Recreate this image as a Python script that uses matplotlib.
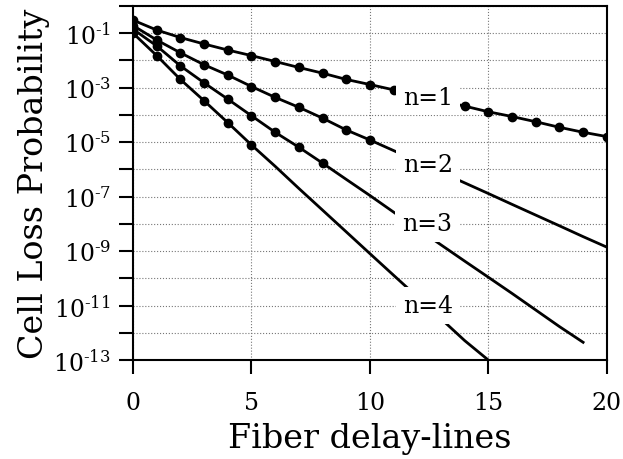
import numpy as np
import matplotlib
matplotlib.use("Agg")
import matplotlib.pyplot as plt
from matplotlib.ticker import FixedLocator, FuncFormatter

# cell loss probability vs number of fiber delay-lines
x_n1 = list(range(0, 21))
p_n1 = [0.30, 0.13, 6.9e-2, 4.0e-2, 2.4e-2, 1.5e-2, 9.1e-3, 5.5e-3, 3.4e-3, 2.0e-3, 1.3e-3,
        8.3e-4, 5.2e-4, 3.3e-4, 2.1e-4, 1.3e-4, 8.7e-5, 5.6e-5, 3.5e-5, 2.3e-5, 1.6e-5]
x_n2 = list(range(0, 21))
p_n2 = [0.19, 5.6e-2, 1.9e-2, 6.9e-3, 2.9e-3, 1.1e-3, 4.4e-4, 1.9e-4, 7.6e-5, 2.8e-5, 1.2e-5,
        4.9e-6, 2.0e-6, 7.9e-7, 3.2e-7, 1.3e-7, 5.2e-8, 2.1e-8, 8.5e-9, 3.4e-9, 1.4e-9]
x_n3 = list(range(0, 20))
p_n3 = [0.14, 3.4e-2, 6.3e-3, 1.5e-3, 3.8e-4, 9.3e-5, 2.3e-5, 6.5e-6, 1.7e-6, 4.3e-7,
        1.1e-7, 2.7e-8, 6.8e-9, 1.7e-9, 4.3e-10, 1.1e-10, 2.8e-11, 6.9e-12, 1.7e-12, 4.5e-13]
x_n4 = list(range(0, 16))
p_n4 = [0.10, 1.5e-2, 2.0e-3, 3.3e-4, 5.2e-5, 7.9e-6, 1.3e-6, 2.0e-7, 3.2e-8, 5.1e-9,
        8.1e-10, 1.3e-10, 2.1e-11, 3.3e-12, 5.2e-13, 1.0e-13]
# number of simulated points (marked) per curve
marked = [21, 11, 9, 6]
labels = ["n=1", "n=2", "n=3", "n=4"]
label_pos = [(12.45, 4.5e-4), (12.45, 1.55e-6), (12.4, 1.0e-8), (12.45, 1.0e-11)]

xticks = [0, 5, 10, 15, 20]
ydecades = list(range(-13, 1))

plt.rcParams['font.family'] = ['DejaVu Serif']
plt.rcParams['mathtext.fontset'] = 'dejavuserif'


def fmt(v, pos):
    d = int(round(np.log10(v)))
    if d % 2 == 0:
        return ''
    return r'$\mathregular{10^{\text{-}%d}}$' % abs(d)


fig = plt.figure(figsize=(6.23, 4.6), dpi=100)
ax = fig.add_axes([0.2135, 0.215, 0.7605, 0.77])

for xs, ps, m in zip([x_n1, x_n2, x_n3, x_n4], [p_n1, p_n2, p_n3, p_n4], marked):
    ax.plot(xs, ps, color='black', lw=2.0, marker='o', ms=6,
            markevery=list(range(m)), zorder=3)

for lab, (lx, ly) in zip(labels, label_pos):
    ax.text(lx, ly, lab, fontsize=17, ha='center', va='center', zorder=5,
            bbox=dict(facecolor='white', edgecolor='none', pad=5))

ax.set_yscale('log')
ax.set_xlim(0, 20)
ax.set_ylim(1e-13, 1)
ax.xaxis.set_major_locator(FixedLocator(xticks))
ax.yaxis.set_major_locator(FixedLocator([10.0 ** d for d in ydecades]))
ax.yaxis.set_minor_locator(FixedLocator([]))
ax.yaxis.set_major_formatter(FuncFormatter(fmt))

ax.grid(True, which='major', ls=':', color='#777777', lw=0.8)
ax.tick_params(direction='out', length=10, width=1.5, labelsize=17, pad=6)
ax.tick_params(axis='x', pad=12)
for s in ax.spines.values():
    s.set_linewidth(1.5)

ax.set_xlabel('Fiber delay-lines', fontsize=24, labelpad=6)
ax.set_ylabel('Cell Loss Probability', fontsize=24, labelpad=2)

fig.savefig('out.png', dpi=100)
